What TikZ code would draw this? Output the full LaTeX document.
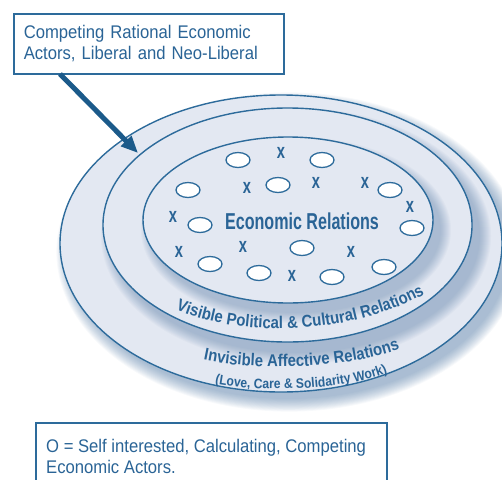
\documentclass[tikz,border=0pt]{standalone}
\usepackage{fontspec}
\setmainfont{Liberation Sans}
\newfontfamily\boxfont{Liberation Sans}[FakeStretch=0.91]
\newfontfamily\curvefont{Liberation Sans}[FakeStretch=0.88]
\newfontfamily\econfont{Liberation Sans}[FakeStretch=0.7]
\usetikzlibrary{shapes.geometric,arrows.meta,decorations.text}
\definecolor{lineblue}{HTML}{2D6B9B}
\definecolor{txtblue}{HTML}{2A6496}
\definecolor{arrowblue}{HTML}{1B5A8A}
\definecolor{fillblue}{HTML}{E3E8F2}
\definecolor{shadowblue}{HTML}{4F77A3}
\tikzset{
  ring/.style={draw=lineblue, line width=1.4pt, fill=fillblue},
  actor/.style={ellipse, draw=lineblue, line width=1.3pt, fill=white, minimum width=24pt, minimum height=15pt, inner sep=0pt},
  cross/.style={font=\econfont\bfseries\fontsize{21}{21}\selectfont, text=txtblue, inner sep=0pt},
  boxline/.style={draw=lineblue, line width=1.6pt, fill=white},
  boxtext/.style={font=\boxfont\fontsize{18.3}{21}\selectfont, text=txtblue, align=left},
  pointer/.style={draw=arrowblue, line width=5pt, -{Triangle[length=17pt,width=14pt]}},
  curved/.style={decorate, decoration={text along path, text align=center}},
}
\begin{document}
\begin{tikzpicture}[x=1pt,y=-1pt]
\useasboundingbox (0,0) rectangle (502,479);
% shadow of outer ellipse
\foreach \i in {0,...,14}{
  \fill[shadowblue, opacity=0.045] (289,252) ellipse [x radius={220pt+\i*0.9pt}, y radius={147pt+\i*0.9pt}];
}
\path[ring] (281,243.5) ellipse [x radius=221pt, y radius=148.5pt];
% shadow of middle ellipse
\begin{scope}
\clip (281,243.5) ellipse [x radius=220pt, y radius=147.5pt];
\foreach \i in {0,...,11}{
  \fill[shadowblue, opacity=0.04] (296,236) ellipse [x radius={184pt+\i*1pt}, y radius={117pt+\i*1pt}];
}
\end{scope}
\path[ring] (287.5,225) ellipse [x radius=184.5pt, y radius=117pt];
% shadow of inner ellipse
\begin{scope}
\clip (287.5,225) ellipse [x radius=183.5pt, y radius=116pt];
\foreach \i in {0,...,10}{
  \fill[shadowblue, opacity=0.04] (296,230) ellipse [x radius={145pt+\i*1pt}, y radius={83pt+\i*1pt}];
}
\end{scope}
\path[ring] (288,220) ellipse [x radius=145pt, y radius=83pt];

% actors
\node[actor] (o1) at (238,160) {};
\node[actor] (o2) at (322,160) {};
\node[actor] (o3) at (188,190) {};
\node[actor] (o4) at (278,185) {};
\node[actor] (o5) at (390,190) {};
\node[actor] (o6) at (200,225) {};
\node[actor] (o7) at (412,228) {};
\node[actor] (o8) at (302,248) {};
\node[actor] (o9) at (210,264) {};
\node[actor] (o10) at (259,273) {};
\node[actor] (o11) at (332,277) {};
\node[actor] (o12) at (384,267) {};
% crosses
\node[cross] (x1) at (281,153) {x};
\node[cross] (x2) at (247,188) {x};
\node[cross] (x3) at (316,183) {x};
\node[cross] (x4) at (365,183) {x};
\node[cross] (x5) at (410,207) {x};
\node[cross] (x6) at (173,217) {x};
\node[cross] (x7) at (179,252) {x};
\node[cross] (x8) at (243,247) {x};
\node[cross] (x9) at (292,276) {x};
\node[cross] (x10) at (351,252) {x};

\node[font=\econfont\bfseries\fontsize{23}{23}\selectfont, text=txtblue, inner sep=0pt] (econ) at (302,221) {Economic Relations};

% curved labels
\path[curved, decoration={text={|\curvefont\bfseries\fontsize{17}{17}\selectfont\color{txtblue}|Visible Political {\&} Cultural Relations}}]
  (168,306) .. controls (238,340) and (355,336) .. (432,290);
\path[curved, decoration={text={|\curvefont\bfseries\fontsize{17}{17}\selectfont\color{txtblue}|Invisible Affective Relations}}]
  (195,358) .. controls (250,372) and (350,370) .. (408,346);
\path[curved, decoration={text={|\curvefont\bfseries\fontsize{13.8}{13.8}\selectfont\color{txtblue}|(Love, Care {\&} Solidarity Work)}}]
  (208,382) .. controls (255,393) and (345,392) .. (394,370);

% top box and arrow
\node[boxline, boxtext, anchor=north west, text width=250pt, inner xsep=10pt, inner ysep=0pt, minimum height=60pt] (topbox) at (13,13)
  {Competing Rational Economic\\Actors, Liberal and Neo-Liberal};
\coordinate (tail) at (60,74);
\coordinate (tip) at (138,153);
\draw[pointer] (tail) -- (tip);

% legend box
\draw[boxline] (36,500) -- (36,423) -- (387,423) -- (387,500);
\node[boxtext, anchor=west, inner sep=0pt] (legend) at (46,456)
  {O = Self interested, Calculating, Competing\\Economic Actors.};
\end{tikzpicture}
\end{document}
